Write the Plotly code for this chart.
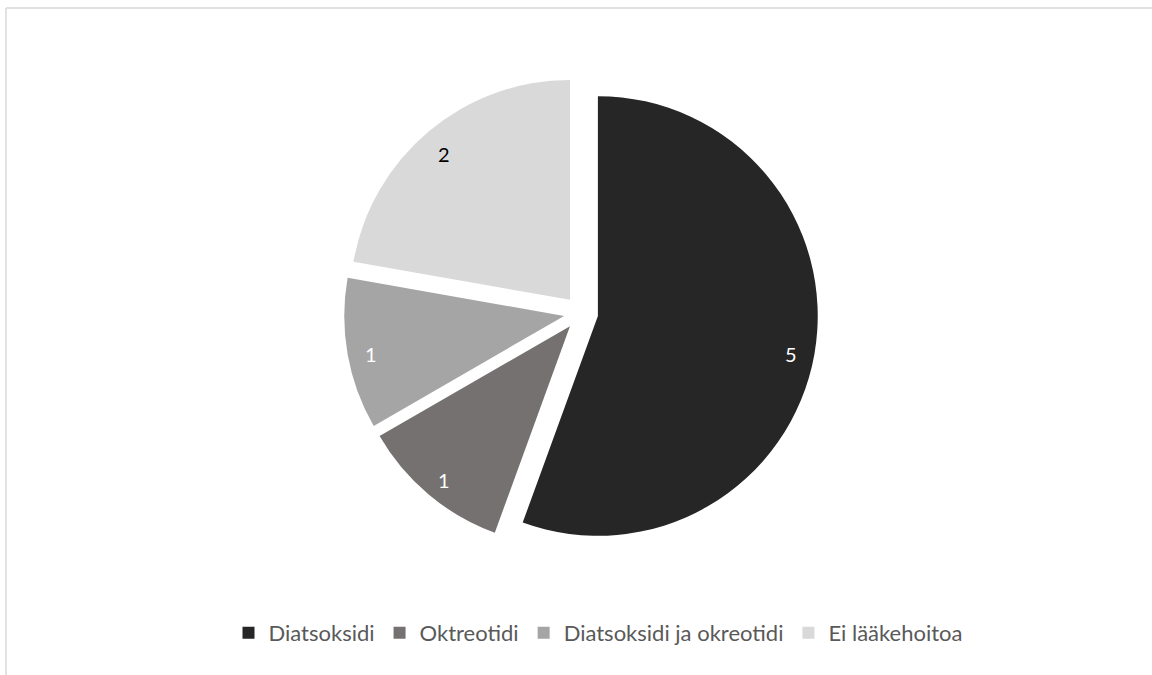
import math
import plotly.graph_objects as go

labels = ["Diatsoksidi", "Oktreotidi", "Diatsoksidi ja okreotidi", "Ei lääkehoitoa"]
values = [5, 1, 1, 2]
colors = ["#262626", "#767171", "#A5A5A5", "#D9D9D9"]
text_colors = ["#FFFFFF", "#FFFFFF", "#FFFFFF", "#000000"]

W, H = 1152, 675
cx, cy, half = 581, 313, 237
PULL = 0.078
LABEL_R = 0.89

fig = go.Figure(go.Pie(
    labels=labels,
    values=values,
    sort=False,
    direction="clockwise",
    rotation=0,
    pull=[PULL] * len(values),
    marker=dict(colors=colors, line=dict(width=0)),
    textinfo="none",
    domain=dict(x=[(cx - half) / W, (cx + half) / W], y=[1 - (cy + half) / H, 1 - (cy - half) / H]),
    hoverinfo="label+value",
))

# value labels placed along each slice bisector (Excel-style)
r = half / (1 + PULL)
total = sum(values)
cum = 0
annotations = []
for v, tc in zip(values, text_colors):
    mid = (cum + v / 2) / total * 2 * math.pi
    cum += v
    d = r * PULL + r * LABEL_R
    px = cx + math.sin(mid) * d
    py = cy - math.cos(mid) * d
    annotations.append(dict(
        x=px / W, y=1 - py / H, xref="paper", yref="paper", text=str(v),
        showarrow=False, xanchor="center", yanchor="middle", yshift=-4,
        font=dict(size=20, color=tc, family="Lato"),
    ))

fig.update_layout(
    width=W, height=H,
    margin=dict(l=0, r=0, t=0, b=0),
    paper_bgcolor="white",
    plot_bgcolor="white",
    font=dict(family="Lato", color="#595959", size=22),
    legend=dict(
        orientation="h", x=598 / W, xanchor="center", y=1 - 633 / H, yanchor="middle",
        font=dict(size=22, color="#595959", family="Lato"),
        itemwidth=30,
        traceorder="normal",
    ),
    annotations=annotations,
    shapes=[
        dict(type="line", xref="paper", yref="paper", x0=6 / W, x1=1, y0=1 - 8 / H, y1=1 - 8 / H,
             line=dict(color="#D9D9D9", width=1.5)),
        dict(type="line", xref="paper", yref="paper", x0=6 / W, x1=6 / W, y0=0, y1=1 - 8 / H,
             line=dict(color="#D9D9D9", width=1.5)),
    ],
)

fig.write_html(
    "out.html",
    config={"displayModeBar": False},
    post_script="document.body.style.margin='0';document.body.style.overflow='hidden';",
)
